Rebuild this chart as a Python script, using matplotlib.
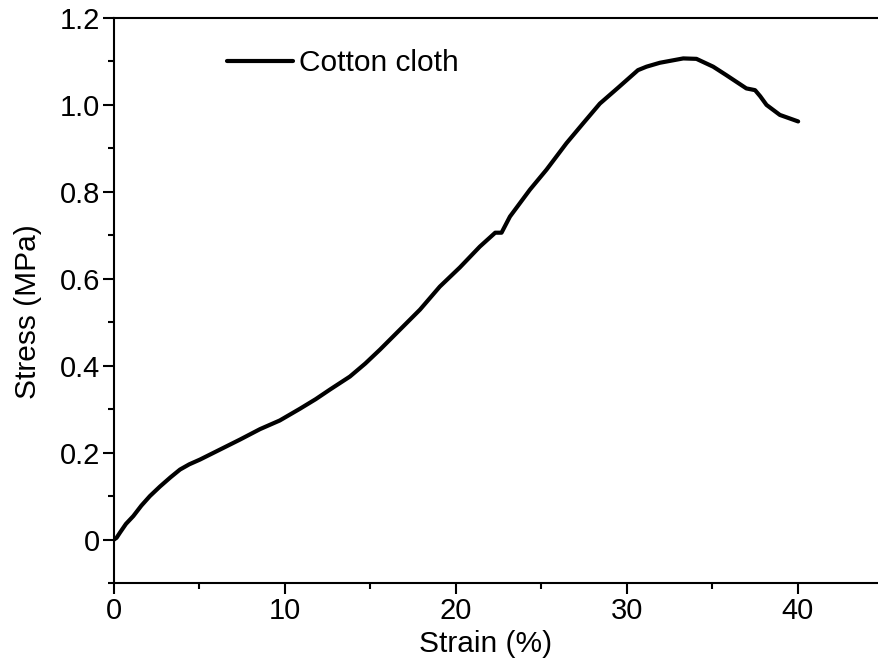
import matplotlib
matplotlib.use('Agg')
import matplotlib.pyplot as plt
from matplotlib.ticker import MultipleLocator

# Stress-strain curve of cotton cloth
strain = [0.0, 0.15, 0.35, 0.7, 1.13, 1.6, 2.1, 2.69, 3.3, 3.86, 4.4, 5.03,
          6.2, 7.37, 8.54, 9.7, 10.88, 11.8, 12.63, 13.8, 14.7, 15.56,
          16.73, 17.9, 19.06, 20.23, 21.4, 22.3, 22.67, 23.16, 24.33,
          25.3, 26.47, 27.45, 28.42, 29.5, 30.65, 31.15, 31.93, 33.3,
          34.07, 35.05, 35.8, 36.99, 37.5, 37.8, 38.17, 38.95, 40.02]
stress = [0.0, 0.004, 0.016, 0.036, 0.054, 0.078, 0.1, 0.122, 0.143, 0.161,
          0.173, 0.184, 0.207, 0.23, 0.254, 0.274, 0.301, 0.323, 0.345,
          0.375, 0.405, 0.437, 0.483, 0.529, 0.582, 0.626, 0.674, 0.706,
          0.706, 0.743, 0.805, 0.851, 0.912, 0.958, 1.003, 1.04, 1.08,
          1.088, 1.097, 1.107, 1.106, 1.088, 1.069, 1.038, 1.034, 1.02,
          1.0, 0.977, 0.962]

plt.rcParams['font.family'] = ['Liberation Sans', 'DejaVu Sans']

fig = plt.figure(figsize=(8.79, 6.66), dpi=100)
ax = fig.add_axes([114 / 879, 1 - 583 / 666, 1 - 114 / 879, (583 - 18) / 666])

ax.plot(strain, stress, color='black', lw=3, label='Cotton cloth',
        solid_capstyle='round', solid_joinstyle='round')

ax.set_xlim(0, 44.75)
ax.set_ylim(-0.1, 1.2)
ax.xaxis.set_major_locator(MultipleLocator(10))
ax.xaxis.set_minor_locator(MultipleLocator(5))
ax.yaxis.set_major_locator(MultipleLocator(0.2))
ax.yaxis.set_minor_locator(MultipleLocator(0.1))
ax.set_yticks([0, 0.2, 0.4, 0.6, 0.8, 1.0, 1.2])
ax.set_yticklabels(['0', '0.2', '0.4', '0.6', '0.8', '1.0', '1.2'])

for s in ['left', 'bottom', 'top']:
    ax.spines[s].set_linewidth(1.5)
ax.spines['right'].set_visible(False)
ax.tick_params(which='major', direction='out', length=8, width=1.5,
               labelsize=21, pad=2)
ax.tick_params(which='minor', direction='out', length=4.5, width=1.5)
ax.tick_params(top=False, right=False)

ax.set_xlabel('Strain (%)', fontsize=21.5)
ax.set_ylabel('Stress (MPa)', fontsize=21.5)
ax.xaxis.set_label_coords(0.486, -0.083)
ax.yaxis.set_label_coords(-0.094, 0.48)

ax.legend(loc='center left', bbox_to_anchor=(0.148, 0.92), frameon=False,
          fontsize=21.5, handlelength=2.2, handletextpad=0.2,
          borderpad=0, borderaxespad=0)

fig.savefig('out.png', dpi=100)
